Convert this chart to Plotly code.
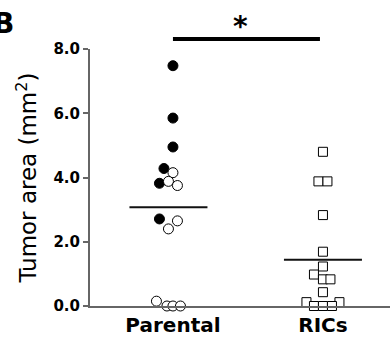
import plotly.graph_objects as go

categories = ["Parental", "RICs"]
cat_pos = [0, 1]

parental_filled = [7.48, 5.85, 4.95, 4.28, 3.82, 2.71]
parental_filled_jitter = [0.0, 0.0, 0.0, -0.06, -0.09, -0.09]
parental_open = [4.15, 3.88, 3.75, 2.65, 2.40, 0.15, 0.0, 0.0, 0.0]
parental_open_jitter = [0.0, -0.03, 0.03, 0.03, -0.03, -0.11, -0.04, 0.0, 0.05]
rics_values = [4.80, 3.88, 3.88, 2.83, 1.69, 1.23, 0.98, 0.83, 0.83, 0.43, 0.12, 0.12, 0.0, 0.0, 0.0]
rics_jitter = [0.0, -0.03, 0.03, 0.0, 0.0, 0.0, -0.06, 0.0, 0.05, 0.0, -0.11, 0.11, -0.06, 0.0, 0.06]

sig_level = 8.31
sig_label = "*"

parental_all = parental_filled + parental_open
mean_parental = sum(parental_all) / len(parental_all)
mean_rics = sum(rics_values) / len(rics_values)

y_ticks = [0, 2, 4, 6, 8]
y_tick_labels = ["0.0", "2.0", "4.0", "6.0", "8.0"]

x_range = [-0.553, 1.447]
y_range = [0, 8]


def xp(v):
    return (v - x_range[0]) / (x_range[1] - x_range[0])


def yp(v):
    return (v - y_range[0]) / (y_range[1] - y_range[0])


fig = go.Figure()

# mean lines
fig.add_trace(go.Scatter(x=[cat_pos[0] - 0.29, cat_pos[0] + 0.23], y=[mean_parental] * 2,
                         mode="lines", line=dict(color="#111", width=2), showlegend=False,
                         hoverinfo="skip"))
fig.add_trace(go.Scatter(x=[cat_pos[1] - 0.26, cat_pos[1] + 0.26], y=[mean_rics] * 2,
                         mode="lines", line=dict(color="#111", width=2), showlegend=False,
                         hoverinfo="skip"))

fig.add_trace(go.Scatter(x=[cat_pos[0] + j for j in parental_filled_jitter], y=parental_filled,
                         mode="markers", cliponaxis=False, showlegend=False,
                         marker=dict(symbol="circle", size=10, color="black",
                                     line=dict(color="black", width=1))))
fig.add_trace(go.Scatter(x=[cat_pos[0] + j for j in parental_open_jitter], y=parental_open,
                         mode="markers", cliponaxis=False, showlegend=False,
                         marker=dict(symbol="circle", size=10, color="white",
                                     line=dict(color="black", width=1))))
fig.add_trace(go.Scatter(x=[cat_pos[1] + j for j in rics_jitter], y=rics_values,
                         mode="markers", cliponaxis=False, showlegend=False,
                         marker=dict(symbol="square", size=9, color="white",
                                     line=dict(color="black", width=1))))

# significance bar (paper coords derived from the axis ranges)
fig.add_shape(type="line", xref="paper", yref="paper",
              x0=xp(cat_pos[0]), x1=xp(cat_pos[1] - 0.02),
              y0=yp(sig_level), y1=yp(sig_level),
              line=dict(color="black", width=4))
fig.add_annotation(x=xp(0.45), y=yp(sig_level), xref="paper", yref="paper", text=sig_label,
                   showarrow=False, yanchor="bottom", yshift=-6,
                   font=dict(size=28, color="black", family="DejaVu Sans", weight="bold"))
fig.add_annotation(x=-0.33, y=1.0, xref="paper", yref="paper", text="B",
                   showarrow=False, xanchor="left", yanchor="middle", yshift=26,
                   font=dict(size=28, color="black", family="DejaVu Sans", weight="bold"))

fig.update_layout(
    width=390, height=337,
    margin=dict(l=90, r=0, t=49, b=28),
    plot_bgcolor="white", paper_bgcolor="white",
    font=dict(family="DejaVu Sans", color="black"),
)
fig.update_xaxes(range=x_range, tickvals=cat_pos, ticktext=categories,
                 showline=True, linecolor="#666", linewidth=2, ticks="",
                 showgrid=False, zeroline=False,
                 tickfont=dict(size=20, family="DejaVu Sans", color="black", weight="bold"),
                 ticklabelstandoff=0)
fig.update_yaxes(range=y_range, tickvals=y_ticks, ticktext=y_tick_labels,
                 showline=True, linecolor="#666", linewidth=2, ticks="outside",
                 ticklen=5, tickcolor="#666", tickwidth=2,
                 showgrid=False, zeroline=False,
                 tickfont=dict(size=15, family="DejaVu Sans", color="black", weight="bold"),
                 title=dict(text="Tumor area (mm<sup>2</sup>)", standoff=10,
                            font=dict(size=23, family="DejaVu Sans", color="black")))

fig.write_html("out.html", config={"displayModeBar": False},
               post_script="document.body.style.margin='0';")
